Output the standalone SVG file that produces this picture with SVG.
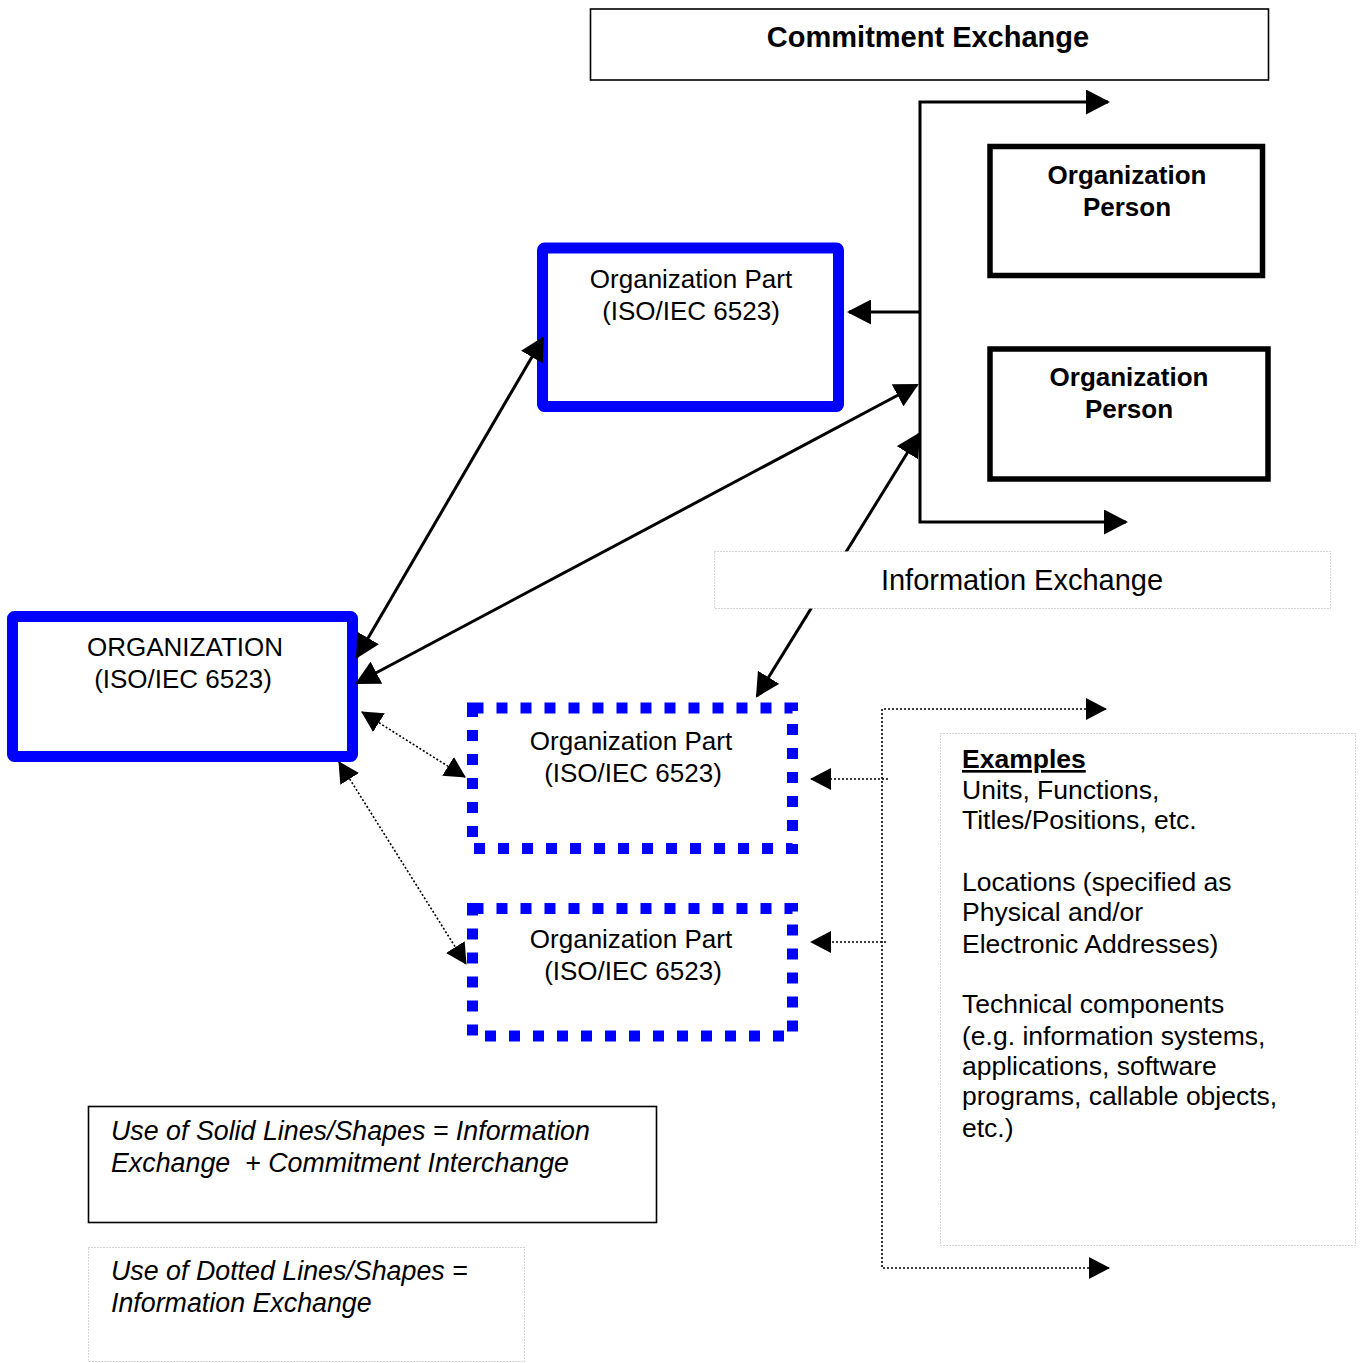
<svg xmlns="http://www.w3.org/2000/svg" width="1366" height="1363" viewBox="0 0 1366 1363">
  <style>
    text { font-family: "Liberation Sans", Arial, sans-serif; fill: #000; }
    .lbl { font-size: 26px; text-anchor: middle; }
    .bold { font-weight: bold; }
    .ital { font-style: italic; font-size: 26.8px; }
    .ex { font-size: 26.5px; }
    .org { fill: #fff; stroke: #0000ff; stroke-width: 11; }
    .orgdot { fill: #fff; stroke: #0000ff; stroke-width: 11; stroke-dasharray: 11 13; }
    .person { fill: #fff; stroke: #000; stroke-width: 5.5; }
    .plain { fill: #fff; stroke: #000; stroke-width: 1.6; }
    .note { fill: #fff; stroke: #aaaaaa; stroke-width: 1; stroke-dasharray: 1 2; }
    .solid { fill: none; stroke: #000; stroke-width: 3; }
    .dotted { fill: none; stroke: #000; stroke-width: 1.6; stroke-dasharray: 2 2; }
  </style>
  <defs>
    <marker id="head" markerUnits="userSpaceOnUse" markerWidth="24" markerHeight="25" viewBox="0 0 24 25" refX="22" refY="12.5" orient="auto-start-reverse">
      <path d="M0,0 L24,12.5 L0,25 z" fill="#000" stroke="none"/>
    </marker>
    <marker id="headS" markerUnits="userSpaceOnUse" markerWidth="21" markerHeight="22" viewBox="0 0 21 22" refX="20" refY="11" orient="auto-start-reverse">
      <path d="M0,0 L21,11 L0,22 z" fill="#000" stroke="none"/>
    </marker>
  </defs>

  <rect width="1366" height="1363" fill="#fff"/>

  <!-- header -->
  <g id="commitment-exchange">
    <rect class="plain" x="590.5" y="9" width="678" height="71"/>
    <text class="lbl bold" x="928" y="47" style="font-size:29px">Commitment Exchange</text>
  </g>

  <!-- organization persons -->
  <g id="person-1">
    <rect class="person" x="990" y="146.5" width="272.5" height="129"/>
    <text class="lbl bold" x="1127" y="184">Organization</text>
    <text class="lbl bold" x="1127" y="216">Person</text>
  </g>
  <g id="person-2">
    <rect class="person" x="990" y="349" width="278" height="130"/>
    <text class="lbl bold" x="1129" y="386">Organization</text>
    <text class="lbl bold" x="1129" y="418">Person</text>
  </g>

  <!-- organization parts -->
  <g id="org-part-top">
    <rect class="org" x="542.5" y="248" width="296" height="158.5" rx="2"/>
    <text class="lbl" x="691" y="288">Organization Part</text>
    <text class="lbl" x="691" y="320">(ISO/IEC 6523)</text>
  </g>
  <g id="organization">
    <rect class="org" x="12.5" y="616.5" width="340" height="140" rx="2"/>
    <text class="lbl" x="185" y="656">ORGANIZATION</text>
    <text class="lbl" x="183" y="688">(ISO/IEC 6523)</text>
  </g>
  <g id="org-part-dotted-1">
    <rect class="orgdot" x="472.5" y="708" width="320" height="140.5"/>
    <text class="lbl" x="631" y="750">Organization Part</text>
    <text class="lbl" x="633" y="782">(ISO/IEC 6523)</text>
  </g>
  <g id="org-part-dotted-2">
    <rect class="orgdot" x="472.5" y="908.5" width="320" height="127.5"/>
    <text class="lbl" x="631" y="948">Organization Part</text>
    <text class="lbl" x="633" y="980">(ISO/IEC 6523)</text>
  </g>

  <!-- examples -->
  <g id="examples">
    <rect class="note" x="940.5" y="733.5" width="415" height="512"/>
    <text class="ex bold" x="962" y="768" text-decoration="underline">Examples</text>
    <text class="ex" x="962" y="799">Units, Functions,</text>
    <text class="ex" x="962" y="829">Titles/Positions, etc.</text>
    <text class="ex" x="962" y="891">Locations (specified as</text>
    <text class="ex" x="962" y="921">Physical and/or</text>
    <text class="ex" x="962" y="953">Electronic Addresses)</text>
    <text class="ex" x="962" y="1013">Technical components</text>
    <text class="ex" x="962" y="1045">(e.g. information systems,</text>
    <text class="ex" x="962" y="1075">applications, software</text>
    <text class="ex" x="962" y="1105">programs, callable objects,</text>
    <text class="ex" x="962" y="1137">etc.)</text>
  </g>

  <!-- legend -->
  <g id="legend-solid">
    <rect class="plain" x="88.5" y="1106.5" width="568" height="116"/>
    <text class="ital" x="111" y="1140">Use of Solid Lines/Shapes = Information</text>
    <text class="ital" x="111" y="1172" xml:space="preserve">Exchange  + Commitment Interchange</text>
  </g>
  <g id="legend-dotted">
    <rect class="note" x="88.5" y="1247.5" width="436" height="114"/>
    <text class="ital" x="111" y="1280">Use of Dotted Lines/Shapes =</text>
    <text class="ital" x="111" y="1312">Information Exchange</text>
  </g>

  <!-- connectors -->
  <g id="connectors">
    <path class="solid" d="M1108,102 H920 V522 H1126" marker-start="url(#head)" marker-end="url(#head)"/>
    <path class="solid" d="M920,312 H849" marker-end="url(#head)"/>
    <path class="solid" d="M357,657 L543,338" marker-start="url(#head)" marker-end="url(#head)"/>
    <path class="solid" d="M357,683 L917,385" marker-start="url(#head)" marker-end="url(#head)"/>
    <path class="solid" d="M919,434 L757,696" marker-start="url(#head)" marker-end="url(#head)"/>
    <path class="dotted" d="M362,712 L465,777" marker-start="url(#headS)" marker-end="url(#headS)"/>
    <path class="dotted" d="M339,762 L466,964" marker-start="url(#headS)" marker-end="url(#headS)"/>
    <path class="dotted" d="M1106,709 H882 V1268 H1109" marker-start="url(#headS)" marker-end="url(#headS)"/>
    <path class="dotted" d="M888,779 H811" marker-end="url(#headS)"/>
    <path class="dotted" d="M886,942 H811" marker-end="url(#headS)"/>
  </g>

  <!-- label box laid over the solid connector -->
  <g id="information-exchange">
    <rect class="note" x="714.5" y="551.5" width="616" height="57"/>
    <text class="lbl" x="1022" y="590" style="font-size:29px">Information Exchange</text>
  </g>
</svg>
